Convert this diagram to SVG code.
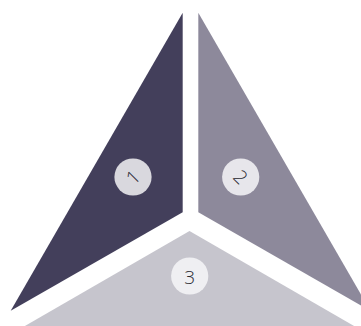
<svg xmlns="http://www.w3.org/2000/svg" width="361" height="326" viewBox="0 0 361 326">
<style>
.lbl{font-family:"Open Sans","Liberation Sans",sans-serif;font-weight:300;font-size:19px;fill:#2b2b33;text-anchor:middle;dominant-baseline:central}
</style>
<rect width="361" height="326" fill="#ffffff"/>
<g id="node1">
<polygon points="182.7,12.7 182.7,212.3 10.7,310.7" fill="#433F5B"/>
<circle cx="133" cy="177" r="18.6" fill="#D9D8DE"/>
<text class="lbl" x="133" y="177" transform="rotate(-45 133 177)">1</text>
</g>
<g id="node2">
<polygon points="198.3,12.7 198.3,212.3 370.3,310.7" fill="#8D899B"/>
<circle cx="240.7" cy="177" r="18.6" fill="#E7E6EB"/>
<text class="lbl" x="240.7" y="177" transform="rotate(45 240.7 177)">2</text>
</g>
<g id="node3">
<polygon points="189.5,231 24.9,326 354.1,326" fill="#C6C5CD"/>
<circle cx="189.7" cy="276" r="18.6" fill="#EFEFF2"/>
<text class="lbl" x="189.7" y="277">3</text>
</g>
<g id="connectors"/>
</svg>
